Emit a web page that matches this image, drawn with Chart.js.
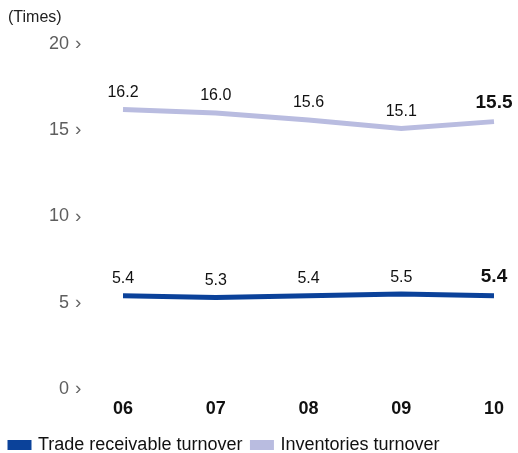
<!DOCTYPE html>
<html>
<head>
<meta charset="utf-8">
<script src="https://cdn.jsdelivr.net/npm/chart.js@4/dist/chart.umd.min.js"></script>
<style>
  html, body { margin: 0; padding: 0; background: #fff; }
  #wrap { width: 518px; height: 453px; position: relative; }
</style>
</head>
<body>
<div id="wrap"><canvas id="chart"></canvas></div>
<script>
// chart data
const years = ['06', '07', '08', '09', '10'];
const tradeReceivable = [5.4, 5.3, 5.4, 5.5, 5.4];
const inventories = [16.2, 16.0, 15.6, 15.1, 15.5];
const seriesNames = ['Trade receivable turnover', 'Inventories turnover'];
const unitLabel = '(Times)';

const FONT = '"Liberation Sans", Arial, Helvetica, sans-serif';
const DARK = '#0b429a';
const LIGHT = '#b9bce0';

// unit text in the top left corner
const unitTitle = {
    id: 'unitTitle',
    afterDraw(chart) {
        const ctx = chart.ctx;
        ctx.save();
        ctx.fillStyle = '#222';
        ctx.font = '16px ' + FONT;
        ctx.textAlign = 'left';
        ctx.textBaseline = 'middle';
        ctx.fillText(unitLabel, 8, 18);
        ctx.restore();
    }
};

// y tick labels with a small chevron, drawn from the y scale ticks
// (chart.js adds tick padding on top of the plot, so we draw them ourselves)
const yTickLabels = {
    id: 'yTickLabels',
    afterDraw(chart) {
        const ctx = chart.ctx;
        const yScale = chart.scales.y;
        ctx.save();
        ctx.textBaseline = 'middle';
        yScale.ticks.forEach(t => {
            const y = yScale.getPixelForValue(t.value);
            ctx.fillStyle = '#5e5e5e';
            ctx.font = '18px ' + FONT;
            ctx.textAlign = 'right';
            ctx.fillText(String(t.value), 69, y);
            ctx.fillStyle = '#666';
            ctx.font = '19px ' + FONT;
            ctx.textAlign = 'left';
            ctx.fillText('\u203A', 75, y);
        });
        ctx.restore();
    }
};

// draw the value above each point, last one bigger and bold
const valueLabels = {
    id: 'valueLabels',
    afterDatasetsDraw(chart) {
        const ctx = chart.ctx;
        ctx.save();
        ctx.fillStyle = '#111';
        ctx.textAlign = 'center';
        ctx.textBaseline = 'middle';
        chart.data.datasets.forEach((ds, i) => {
            const meta = chart.getDatasetMeta(i);
            meta.data.forEach((pt, j) => {
                const last = j === ds.data.length - 1;
                ctx.font = last ? 'bold 19px ' + FONT : '16px ' + FONT;
                ctx.fillText(ds.data[j].toFixed(1), pt.x, pt.y - (last ? 19 : 17));
            });
        });
        ctx.restore();
    }
};

new Chart(document.getElementById('chart'), {
    type: 'line',
    data: {
        labels: years,
        datasets: [{
            label: seriesNames[0],
            data: tradeReceivable,
            borderColor: DARK,
            backgroundColor: DARK,
            borderWidth: 5,
            pointRadius: 0,
            tension: 0
        }, {
            label: seriesNames[1],
            data: inventories,
            borderColor: LIGHT,
            backgroundColor: LIGHT,
            borderWidth: 5,
            pointRadius: 0,
            tension: 0
        }]
    },
    options: {
        responsive: true,
        maintainAspectRatio: false,
        animation: false,
        layout: { padding: { left: 0, right: 24, top: 44, bottom: -11 } },
        plugins: {
            legend: {
                position: 'bottom',
                align: 'start',
                labels: {
                    boxWidth: 19,
                    boxHeight: 5,
                    color: '#111',
                    font: { family: FONT, size: 18 },
                    padding: 10
                }
            },
            tooltip: { enabled: false }
        },
        scales: {
            x: {
                offset: false,
                grid: { display: false, drawTicks: false },
                border: { display: false },
                afterFit(scale) { scale.height = 37; },
                ticks: {
                    color: '#111',
                    font: { family: FONT, size: 18, weight: 'bold' },
                    padding: 9
                }
            },
            y: {
                min: 0,
                max: 20,
                grid: { display: false, drawTicks: false },
                border: { display: false },
                afterFit(scale) { scale.width = 123; },
                ticks: {
                    stepSize: 5,
                    display: false
                }
            }
        }
    },
    plugins: [valueLabels, yTickLabels, unitTitle]
});
</script>
</body>
</html>
